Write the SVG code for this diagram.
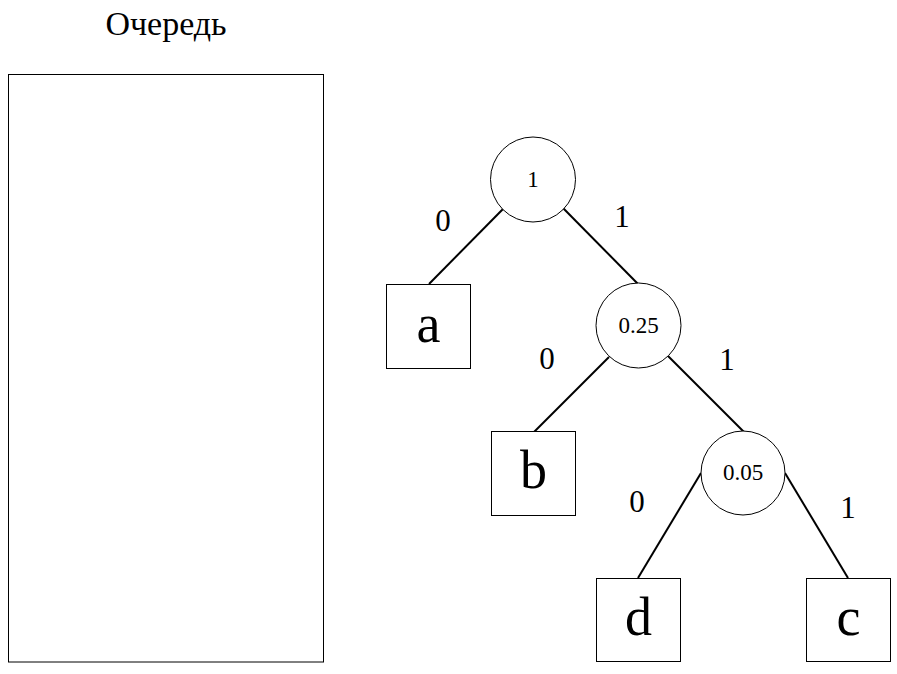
<svg xmlns="http://www.w3.org/2000/svg" width="897" height="674" viewBox="0 0 897 674" font-family="Liberation Serif, Times New Roman, serif">
<style>
text{fill:#000;text-anchor:middle}
.n{fill:#fff;stroke:#000;stroke-width:1}
.e{stroke:#000;stroke-width:2;fill:none}
.lbl{font-size:31px}
.num{font-size:23px}
.leaf{font-size:54px}
</style>
<rect width="897" height="674" fill="#fff"/>
<g id="queue">
<text x="166" y="35" font-size="34">Очередь</text>
<rect x="8.5" y="74.5" width="315" height="587.5" class="n"/>
</g>
<g id="connectors">
<line x1="503" y1="209" x2="429" y2="284" class="e"/>
<line x1="563" y1="208" x2="639" y2="285" class="e"/>
<line x1="609" y1="357" x2="534" y2="432" class="e"/>
<line x1="668" y1="356" x2="744" y2="432" class="e"/>
<line x1="701" y1="473" x2="638" y2="578" class="e"/>
<line x1="785" y1="473" x2="848" y2="578" class="e"/>
<text x="443" y="231" class="lbl">0</text>
<text x="622" y="227" class="lbl">1</text>
<text x="547" y="369" class="lbl">0</text>
<text x="727" y="370" class="lbl">1</text>
<text x="637" y="512" class="lbl">0</text>
<text x="848" y="518" class="lbl">1</text>
</g>
<g id="n1">
<circle cx="533" cy="179.5" r="42.5" class="n"/>
<text x="533" y="187" class="num">1</text>
</g>
<g id="n025">
<circle cx="638.5" cy="325.5" r="42.5" class="n"/>
<text x="638.5" y="333" class="num">0.25</text>
</g>
<g id="n005">
<circle cx="743" cy="473" r="42" class="n"/>
<text x="743" y="480" class="num">0.05</text>
</g>
<g id="a">
<rect x="386.5" y="284.5" width="84" height="84" class="n"/>
<text x="428.5" y="342" class="leaf">a</text>
</g>
<g id="b">
<rect x="491.5" y="431.5" width="84" height="84" class="n"/>
<text x="533.5" y="488" class="leaf">b</text>
</g>
<g id="d">
<rect x="596.5" y="578.5" width="84" height="83" class="n"/>
<text x="638.5" y="635" class="leaf">d</text>
</g>
<g id="c">
<rect x="806.5" y="578.5" width="84" height="83" class="n"/>
<text x="848.5" y="635" class="leaf">c</text>
</g>
</svg>
